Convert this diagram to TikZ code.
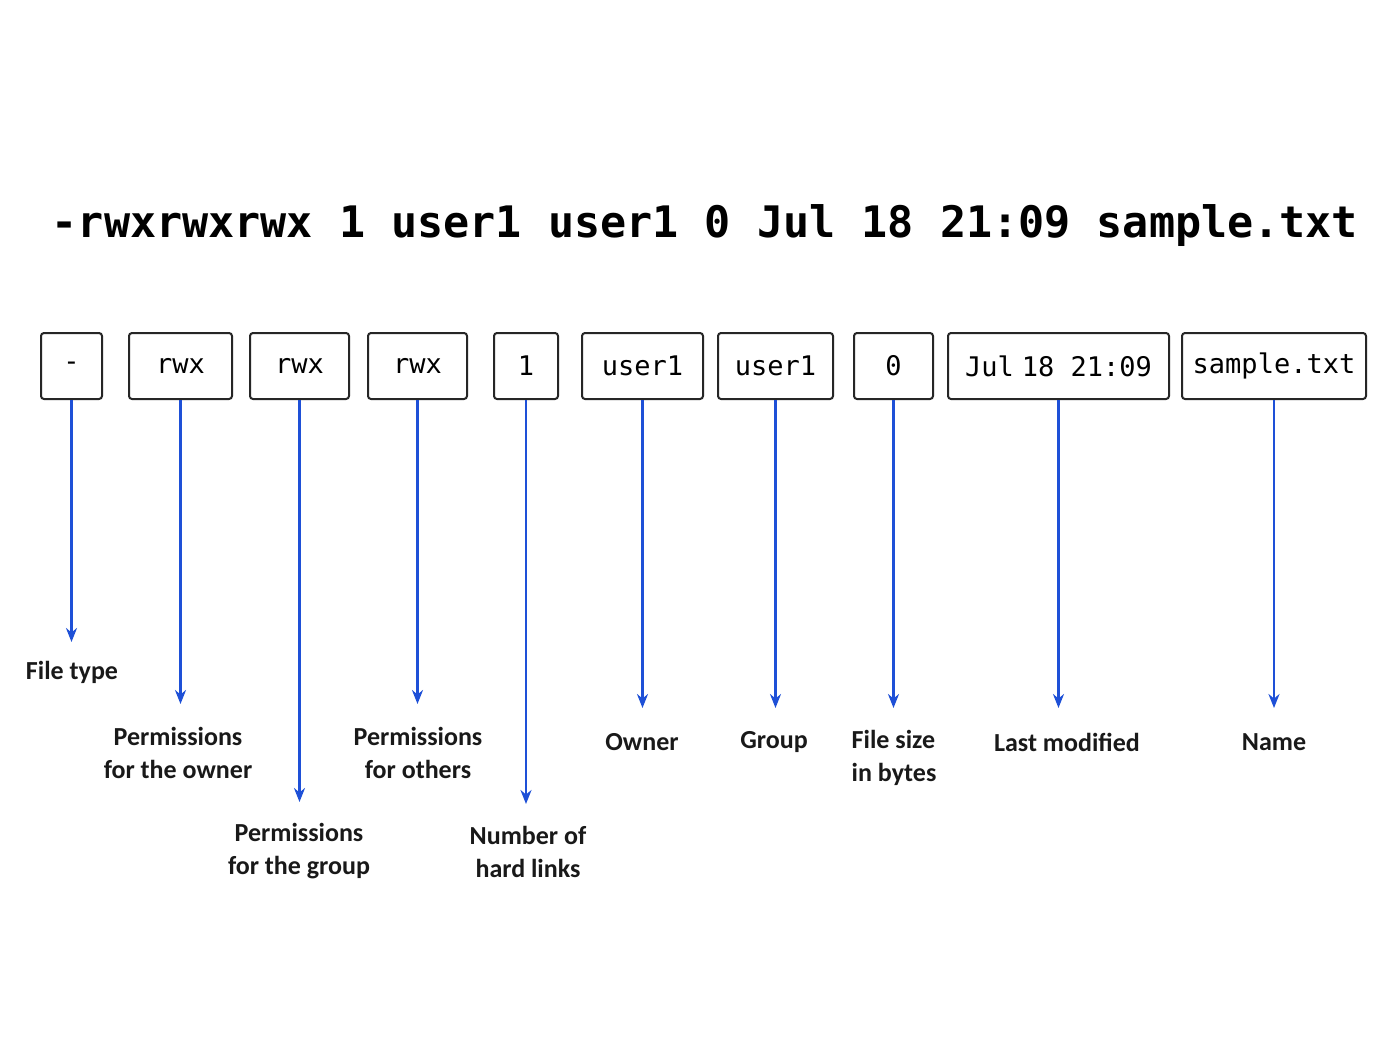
\documentclass[tikz,border=0pt]{standalone}
\usepackage{fontspec}
\setmainfont{Carlito}
\setmonofont{DejaVu Sans Mono}
\usetikzlibrary{arrows.meta}
\definecolor{ab}{RGB}{30,80,215}
\begin{document}
\begin{tikzpicture}[x=1pt,y=-1pt,
 box/.style={draw=black!85,line width=2pt,rounded corners=3pt,font=\fontsize{27}{28}\ttfamily,inner sep=0pt},
 lab/.style={font=\fontsize{26}{33}\selectfont\bfseries,align=center,text=black!90},
 arr/.style={draw=ab,line width=2.4pt,-{Stealth[length=14pt,width=11pt]}}]
\useasboundingbox (0,0) rectangle (1400,1052);
\fill[white] (0,0) rectangle (1400,1052);
\node[font=\fontsize{43.4}{50}\ttfamily\bfseries] (top) at (705,226) {-rwxrwxrwx 1 user1 user1 0 Jul 18 21:09 sample.txt};
\foreach \n/\a/\b/\t in {b1/41/102/-, b2/129/232/rwx, b3/250/349/rwx, b4/368/467/rwx, b5/494/558/1, b6/582/703/user1, b7/718/833/user1, b8/854/933/0, b9/948/1169/Jul\hspace{0.3em}18\ 21:09, b10/1182/1366/sample.txt}{
 \node[box,minimum width={(\b-\a)*1pt},minimum height=66pt] (\n) at ({(\a+\b)/2},366) {\t};
}
\foreach \n/\y [count=\i] in {b1/642,b2/704,b3/802,b4/704,b5/804,b6/708,b7/708,b8/708,b9/708,b10/708}{
 \coordinate (e\i) at (\n.south |- 0,\y);
 \draw[arr] (\n.south) -- (e\i);
}
\node[lab] (l1) at (72,672) {File type};
\node[lab] (l2) at (178,753) {Permissions\\for the owner};
\node[lab] (l3) at (299,851) {Permissions\\for the group};
\node[lab] (l4) at (418,753) {Permissions\\for others};
\node[lab] (l5) at (528,852) {Number of\\hard links};
\node[lab] (l6) at (642,742) {Owner};
\node[lab] (l7) at (774,742) {Group};
\node[lab,align=left] (l8) at (894,758) {File size\\in bytes};
\node[lab] (l9) at (1067,742) {Last modified};
\node[lab] (l10) at (1274,742) {Name};
\end{tikzpicture}
\end{document}
